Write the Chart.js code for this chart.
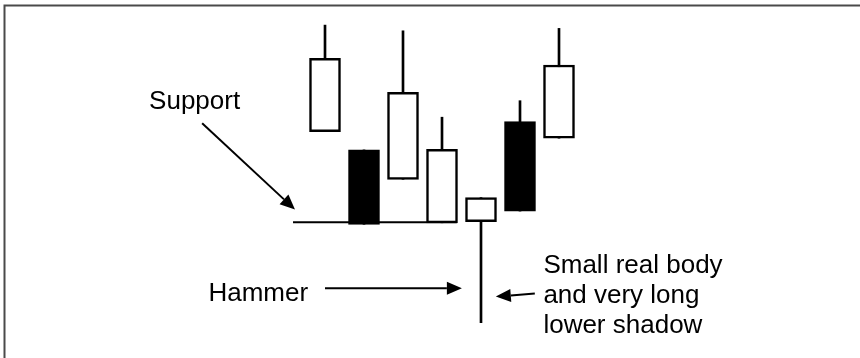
<!DOCTYPE html>
<html>
<head>
<meta charset="utf-8">
<script src="https://cdn.jsdelivr.net/npm/chart.js@4/dist/chart.umd.min.js"></script>
<style>
  html, body { margin: 0; padding: 0; background: #fff; }
  #wrap { position: relative; width: 860px; height: 358px; }
</style>
</head>
<body>
<div id="wrap"><canvas id="c"></canvas></div>
<script>
// Candlestick data (session index, price units)
const sessions = [0, 1, 2, 3, 4, 5, 6];
const opens  = [72.8, 66.7, 56.9, 42.4, 42.8, 76.1, 70.6];
const closes = [97.2, 41.9, 85.9, 66.9, 50.8, 46.3, 95.0];
const highs  = [108.3, 66.7, 106.4, 77.6, 50.8, 83.1, 107.2];
const lows   = [72.8, 41.9, 56.9, 42.4, 9.1, 46.3, 70.6];

// Support level
const supportLevel = 42.6;
const supportFrom = -0.82;
const supportTo = 3.38;

// Annotation texts
const supportLabel = "Support";
const hammerLabel = "Hammer";
const noteLines = ["Small real body", "and very long", "lower shadow"];

// Annotation anchors (data coordinates: session index, price)
const textAnchors = [
  { lines: [supportLabel], x: -4.51, y: 80.2, step: 0 },
  { lines: [hammerLabel], x: -2.99, y: 16.3, step: 0 },
  { lines: noteLines, x: 5.60, y: 25.6, step: -10.0 }
];
const arrows = [
  { from: [-3.15, 75.6], to: [-0.77, 46.8] },
  { from: [0.0, 20.6], to: [3.51, 20.6] },
  { from: [5.38, 18.8], to: [4.38, 17.8] }
];

const bodies = sessions.map((s, i) => ({ x: s, y: [opens[i], closes[i]] }));
const wicks = sessions.map((s, i) => ({ x: s, y: [lows[i], highs[i]] }));
const bodyColors = sessions.map((s, i) => closes[i] >= opens[i] ? '#ffffff' : '#000000');

const annotate = {
  id: 'annotate',
  afterDraw(chart) {
    const ctx = chart.ctx;
    const xs = chart.scales.x, ys = chart.scales.y;
    ctx.save();
    // frame (top and left edges)
    ctx.strokeStyle = '#4a4a4a';
    ctx.lineWidth = 2;
    ctx.beginPath();
    ctx.moveTo(4.5, 358);
    ctx.lineTo(4.5, 5.5);
    ctx.lineTo(860, 5.5);
    ctx.stroke();

    ctx.fillStyle = '#000';
    ctx.font = '26px "Liberation Sans", Arial, sans-serif';
    ctx.textBaseline = 'alphabetic';
    ctx.textAlign = 'left';
    textAnchors.forEach(t => {
      t.lines.forEach((line, k) => {
        ctx.fillText(line, xs.getPixelForValue(t.x), ys.getPixelForValue(t.y + k * t.step));
      });
    });

    ctx.strokeStyle = '#000';
    ctx.lineWidth = 2;
    arrows.forEach(a => {
      const x1 = xs.getPixelForValue(a.from[0]), y1 = ys.getPixelForValue(a.from[1]);
      const x2 = xs.getPixelForValue(a.to[0]), y2 = ys.getPixelForValue(a.to[1]);
      const ang = Math.atan2(y2 - y1, x2 - x1);
      const L = 15, W = 6.5;
      const bx = x2 - L * Math.cos(ang), by = y2 - L * Math.sin(ang);
      ctx.beginPath();
      ctx.moveTo(x1, y1);
      ctx.lineTo(bx, by);
      ctx.stroke();
      ctx.beginPath();
      ctx.moveTo(x2, y2);
      ctx.lineTo(bx + W * Math.sin(ang), by - W * Math.cos(ang));
      ctx.lineTo(bx - W * Math.sin(ang), by + W * Math.cos(ang));
      ctx.closePath();
      ctx.fill();
    });
    ctx.restore();
  }
};

new Chart(document.getElementById('c'), {
  type: 'bar',
  data: {
    datasets: [
      {
        label: 'Body',
        data: bodies,
        backgroundColor: bodyColors,
        borderColor: '#000',
        borderWidth: 2.5,
        borderSkipped: false,
        barThickness: 31,
        grouped: false,
        order: 0
      },
      {
        label: 'Shadow',
        data: wicks,
        backgroundColor: '#000',
        borderWidth: 0,
        barThickness: 2,
        grouped: false,
        order: 1
      },
      {
        type: 'line',
        label: 'Support',
        data: [{ x: supportFrom, y: supportLevel }, { x: supportTo, y: supportLevel }],
        borderColor: '#000',
        borderWidth: 2,
        pointRadius: 0,
        fill: false,
        order: 2
      }
    ]
  },
  options: {
    responsive: true,
    maintainAspectRatio: false,
    animation: false,
    layout: { padding: { left: 13, right: 28, top: 20, bottom: 8 } },
    plugins: { legend: { display: false }, tooltip: { enabled: false } },
    scales: {
      x: { type: 'linear', min: -8, max: 13, display: false, offset: false },
      y: { min: 0, max: 110, display: false }
    }
  },
  plugins: [annotate]
});
</script>
</body>
</html>
